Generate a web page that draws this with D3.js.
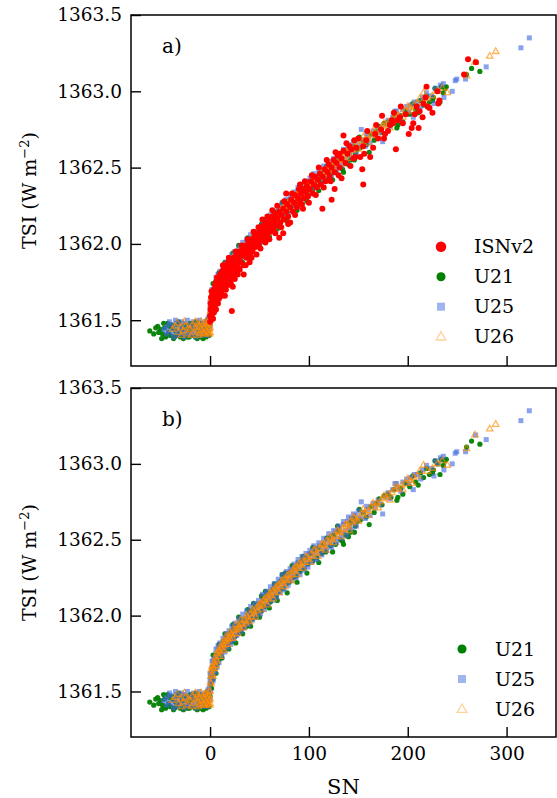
<!DOCTYPE html>
<html>
<head>
<meta charset="utf-8">
<script src="https://cdn.jsdelivr.net/npm/d3@7"></script>
<style>
  body { margin: 0; background: #fff; }
  text { font-family: "DejaVu Serif", serif; fill: #000; }
</style>
</head>
<body>
<svg id="chart" width="557" height="798"></svg>
<script>
// ---- data: [SN, TSI] pairs ----
const u21 = [
  [-61,1361.43],[-57,1361.41],[-55,1361.45],[-53,1361.46],[-52,1361.42],[-50,1361.44],[-49,1361.38],[-48,1361.41],
  [-47,1361.48],[-46,1361.45],[-45,1361.39],[-44,1361.40],[-43,1361.48],[-42,1361.42],[-41,1361.46],[-40,1361.40],
  [-39,1361.47],[-38,1361.45],[-37,1361.38],[-36,1361.39],[-35,1361.43],[-34,1361.40],[-33,1361.47],[-32,1361.49],
  [-31,1361.41],[-30,1361.39],[-29,1361.43],[-28,1361.45],[-27,1361.38],[-26,1361.40],[-25,1361.47],[-24,1361.44],
  [-23,1361.39],[-22,1361.43],[-21,1361.39],[-20,1361.48],[-19,1361.44],[-18,1361.40],[-17,1361.45],[-16,1361.48],
  [-15,1361.39],[-14,1361.49],[-13,1361.38],[-12,1361.42],[-11,1361.46],[-10,1361.44],[-9,1361.39],[-8,1361.48],
  [-7,1361.38],[-6,1361.41],[-5,1361.45],[-4,1361.39],[-3,1361.50],[-2,1361.43],[-2,1361.47],[-1,1361.40],
  [0,1361.47],[0.5,1361.55],[1,1361.60],[1.5,1361.52],[2,1361.63],[3,1361.58],[3,1361.67],[3,1361.74],[4,1361.62],
  [5,1361.70],[5,1361.65],[6,1361.73],[6,1361.62],[7,1361.68],[8,1361.75],[9,1361.71],[9,1361.81],[10,1361.78],
  [11,1361.74],[12,1361.81],[12,1361.72],[13,1361.77],[14,1361.83],[15,1361.78],[15,1361.88],[16,1361.85],[17,1361.80],
  [18,1361.87],[19,1361.82],[19,1361.78],[20,1361.84],[21,1361.89],[22,1361.83],[23,1361.94],[24,1361.91],[25,1361.86],
  [26,1361.82],[27,1361.93],[28,1361.88],[29,1361.99],[30,1361.95],[31,1361.90],[33,1361.97],[33,1361.88],[34,1361.92],
  [36,1361.98],[37,1361.93],[38,1362.04],[39,1362.01],[40,1361.96],[41,1361.93],[42,1362.03],[43,1361.98],[44,1362.08],
  [45,1362.05],[46,1361.99],[48,1362.07],[49,1362.02],[50,1361.99],
  [51,1362.08],[52,1362.13],[52,1362.03],[54,1362.11],[55,1362.06],[56,1362.16],[57,1362.13],[58,1362.07],[60,1362.15],
  [60,1362.05],[61,1362.09],[63,1362.17],[64,1362.12],[65,1362.21],[66,1362.19],[67,1362.13],[68,1362.10],[69,1362.21],
  [70,1362.16],[72,1362.23],[73,1362.27],[74,1362.18],[75,1362.25],[76,1362.28],[77,1362.21],[78,1362.15],[79,1362.28],
  [80,1362.22],[82,1362.29],[83,1362.33],[84,1362.25],[86,1362.31],[87,1362.26],[88,1362.22],[89,1362.34],[91,1362.29],
  [93,1362.36],[94,1362.39],[95,1362.31],[97,1362.38],[98,1362.28],[99,1362.34],
  [102,1362.41],[104,1362.36],[104,1362.45],[106,1362.43],[108,1362.38],[110,1362.45],[110,1362.35],[113,1362.41],
  [115,1362.47],[117,1362.42],[118,1362.51],[120,1362.51],[122,1362.46],[124,1362.42],[125,1362.53],[127,1362.47],
  [129,1362.59],[130,1362.56],[132,1362.50],[134,1362.49],[135,1362.47],[137,1362.53],[140,1362.52],[141,1362.61],
  [142,1362.55],[143,1362.62],[145,1362.64],[146,1362.55],[147,1362.59],[149,1362.62],
  [151,1362.70],[152,1362.63],[155,1362.68],[158,1362.65],[161,1362.60],[163,1362.72],[166,1362.68],[168,1362.74],
  [171,1362.77],[174,1362.73],[176,1362.79],[180,1362.80],[183,1362.78],[186,1362.83],[189,1362.76],[190,1362.78],
  [193,1362.84],[195,1362.80],[198,1362.87],[202,1362.85],[205,1362.92],[208,1362.88],[210.6,1362.86],[213,1362.94],
  [216,1362.91],[219,1362.97],[222,1362.93],[225,1362.94],[226,1362.96],[227.5,1363.02],[230,1363.00],[232.6,1362.93],
  [234,1363.03],[236,1362.99],[237.6,1363.02],[239,1363.03],[259.5,1363.11],[264.6,1363.15],[273,1363.13]
];

const u25 = [
  [-47,1361.44],[-44,1361.46],[-44,1361.41],[-42,1361.43],[-41,1361.49],[-40,1361.47],[-38,1361.42],[-37,1361.39],
  [-36,1361.45],[-35,1361.50],[-34,1361.48],[-33,1361.43],[-32,1361.40],[-31,1361.46],[-30,1361.41],[-29,1361.49],
  [-28,1361.44],[-27,1361.48],[-26,1361.39],[-25,1361.42],[-24,1361.45],[-23,1361.50],[-22,1361.41],[-21,1361.47],
  [-20,1361.40],[-19,1361.43],[-18,1361.46],[-17,1361.49],[-16,1361.41],[-15,1361.44],[-14,1361.39],[-13,1361.47],
  [-12,1361.42],[-11,1361.50],[-10,1361.45],[-9,1361.41],[-8,1361.48],[-8,1361.40],[-7,1361.43],[-6,1361.46],
  [-5,1361.49],[-4,1361.42],[-3,1361.47],[-3,1361.40],[-2,1361.44],[-2,1361.51],[-1,1361.49],[-1,1361.52],
  [0,1361.45],[0,1361.55],[0,1361.58],[0,1361.62],[0.5,1361.50],
  [1,1361.62],[1,1361.57],[2,1361.66],[2,1361.60],[2,1361.70],[3,1361.64],[3,1361.70],[3,1361.57],[4,1361.67],
  [4,1361.62],[4,1361.72],[5,1361.72],[5,1361.63],[6,1361.69],[6,1361.75],[6,1361.78],[7,1361.72],[7,1361.66],
  [8,1361.77],[8,1361.80],[9,1361.74],[9,1361.69],[10,1361.79],[10,1361.82],
  [11,1361.76],[12,1361.81],[12,1361.73],[13,1361.78],[13,1361.85],[14,1361.83],[15,1361.80],[15,1361.76],
  [16,1361.85],[16,1361.88],[17,1361.81],[18,1361.86],[18,1361.79],[19,1361.83],[19,1361.90],[20,1361.88],
  [21,1361.84],[21,1361.81],[22,1361.89],[22,1361.93],[23,1361.86],[24,1361.84],[25,1361.91],[25,1361.95],
  [26,1361.87],[27,1361.93],[27,1361.87],[28,1361.89],[29,1361.98],[30,1361.95],[31,1361.91],[31,1361.89],
  [32,1361.96],[33,1362.01],[34,1361.93],[35,1361.98],[35,1361.92],[37,1361.95],[37,1362.03],[38,1362.00],
  [39,1361.94],[40,1361.97],[41,1362.02],[41,1362.06],[43,1361.99],[43,1361.97],[44,1362.04],[45,1362.08],
  [46,1362.01],[47,1362.06],[47,1361.99],[49,1362.03],[49,1362.10],
  [50,1362.08],[51,1362.01],[52,1362.05],[53,1362.10],[53,1362.14],[55,1362.07],[55,1362.04],[56,1362.12],
  [57,1362.16],[58,1362.09],[59,1362.14],[59,1362.07],[61,1362.11],[61,1362.19],[62,1362.16],[63,1362.10],
  [64,1362.13],[65,1362.18],[65,1362.21],[67,1362.15],[67,1362.12],[68,1362.20],[69,1362.24],[70,1362.17],
  [71,1362.22],[71,1362.15],[73,1362.19],[73,1362.27],[74,1362.24],[75,1362.17],[76,1362.21],[77,1362.26],
  [77,1362.29],[79,1362.23],[79,1362.20],[80,1362.28],[81,1362.31],[82,1362.25],[83,1362.30],[83,1362.23],
  [85,1362.27],[85,1362.34],[86,1362.32],[87,1362.25],[88,1362.29],[89,1362.35],[89,1362.37],[91,1362.31],
  [91,1362.27],[93,1362.36],[93,1362.39],[95,1362.33],[95,1362.30],[96,1362.38],[97,1362.41],[98,1362.35],
  [99,1362.32],
  [100,1362.40],[101,1362.43],[102,1362.37],[103,1362.35],[104,1362.42],[105,1362.46],[106,1362.39],[107,1362.44],
  [108,1362.37],[109,1362.41],[110,1362.48],[111,1362.46],[113,1362.43],[113,1362.40],[115,1362.48],[115,1362.51],
  [117,1362.45],[118,1362.43],[119,1362.50],[120,1362.54],[121,1362.47],[123,1362.52],[123,1362.45],[125,1362.49],
  [125,1362.56],[127,1362.55],[128,1362.48],[129,1362.51],[130,1362.59],[131,1362.57],[133,1362.54],[133,1362.51],
  [135,1362.60],[135,1362.62],[137,1362.56],[138,1362.53],[139,1362.62],[140,1362.65],[141,1362.58],[143,1362.64],
  [143,1362.57],[145,1362.61],[145,1362.67],[147,1362.66],[148,1362.59],[149,1362.63],[150,1362.69],
  [152,1362.65],[153,1362.75],[155,1362.68],[157,1362.64],[158.4,1362.72],[160,1362.70],[162,1362.66],[165,1362.74],
  [167,1362.71],[170,1362.76],[172,1362.73],[174.6,1362.67],[177,1362.78],[180,1362.81],[182,1362.77],[184.7,1362.83],
  [187,1362.87],[188.8,1362.87],[190,1362.84],[193,1362.82],[195,1362.88],[198.9,1362.90],[201,1362.87],[203,1362.91],
  [205.6,1362.83],[206.6,1362.93],[210,1362.93],[213,1362.90],[215,1362.96],[219,1362.99],[224,1362.97],[226.5,1362.92],
  [228,1363.02],[231,1363.00],[233,1363.04],[236,1363.05],[236.6,1362.96],[245,1363.00],[248,1363.07],[249.6,1363.08],
  [258.5,1363.08],[268.6,1363.19],[279.4,1363.16],[314.5,1363.285],[323,1363.35]
];

const u26 = [
  [-38,1361.44],[-35,1361.46],[-33,1361.48],[-32,1361.42],[-30,1361.45],[-29,1361.40],[-27,1361.43],[-26,1361.49],
  [-25,1361.46],[-23,1361.41],[-22,1361.45],[-20,1361.44],[-19,1361.40],[-18,1361.47],[-16,1361.42],[-15,1361.49],
  [-14,1361.45],[-13,1361.48],[-12,1361.43],[-12,1361.40],[-11,1361.46],[-10,1361.41],[-9,1361.44],[-9,1361.49],
  [-8,1361.47],[-7,1361.42],[-6,1361.45],[-6,1361.41],[-5,1361.48],[-4,1361.43],[-4,1361.49],[-3,1361.46],
  [-3,1361.42],[-2,1361.41],[-2,1361.48],[-1,1361.44],[-1,1361.47],[-1,1361.50],[-0.5,1361.41],[0,1361.42],
  [0,1361.45],[0,1361.50],
  [0.5,1361.56],[1,1361.60],[1,1361.55],[1.5,1361.64],[2,1361.61],[2,1361.66],[2.5,1361.67],[3,1361.65],[3,1361.60],
  [4,1361.69],[4,1361.65],[5,1361.67],[5,1361.72],[6,1361.71],[6,1361.67],[7,1361.70],[7,1361.75],[8,1361.73],
  [8,1361.77],[9,1361.77],[10,1361.76],[10,1361.73],
  [11,1361.79],[12,1361.78],[12,1361.82],[13,1361.81],[14,1361.80],[14,1361.77],[15,1361.83],[16,1361.81],[16,1361.86],
  [17,1361.85],[18,1361.84],[18,1361.81],[19,1361.86],[20,1361.85],[20,1361.89],[21,1361.88],[22,1361.87],[23,1361.85],
  [24,1361.90],[25,1361.88],[26,1361.91],[26,1361.94],[28,1361.91],[28,1361.88],[29,1361.93],[30,1361.92],[31,1361.97],
  [32,1361.95],[33,1361.94],[34,1361.92],[35,1361.97],[36,1361.95],[37,1362.00],[38,1361.99],[39,1361.97],[40,1361.96],
  [41,1362.01],[42,1361.99],[43,1362.04],[44,1362.03],[45,1362.01],[46,1361.99],[47,1362.05],[48,1362.03],[49,1362.07],
  [50,1362.06],[51,1362.08],[52,1362.04],[53,1362.07],[54,1362.10],[55,1362.11],[56,1362.09],[57,1362.12],[58,1362.07],
  [59,1362.11],[60,1362.14],[61,1362.15],[62,1362.13],[63,1362.16],[64,1362.11],[65,1362.15],[66,1362.18],[67,1362.19],
  [68,1362.17],[69,1362.20],[70,1362.15],[71,1362.19],[72,1362.22],[73,1362.23],[74,1362.21],[75,1362.24],[76,1362.19],
  [77,1362.23],[78,1362.26],[79,1362.27],[80,1362.24],[81,1362.27],[82,1362.23],[83,1362.27],[84,1362.30],[85,1362.31],
  [86,1362.29],[87,1362.32],[88,1362.27],[89,1362.31],[90,1362.34],[91,1362.35],[92,1362.33],[94,1362.35],[94,1362.31],
  [96,1362.35],[97,1362.39],[98,1362.38],
  [100,1362.37],[101,1362.35],[102,1362.40],[104,1362.39],[105,1362.43],[106,1362.43],[108,1362.41],[109,1362.39],
  [110,1362.44],[112,1362.44],[113,1362.47],[114,1362.47],[116,1362.46],[117,1362.43],[118,1362.49],[120,1362.48],
  [121,1362.52],[122,1362.51],[124,1362.50],[125,1362.48],[126,1362.53],[128,1362.52],[129,1362.56],[130,1362.55],
  [132,1362.55],[133,1362.52],[134,1362.57],[136,1362.57],[137,1362.60],[138,1362.60],[140,1362.59],[141,1362.56],
  [142,1362.62],[144,1362.61],[145,1362.65],[146,1362.64],[148,1362.63],
  [150,1362.62],[151,1362.65],[154,1362.67],[155,1362.70],[157,1362.68],[160,1362.69],[160,1362.66],[163,1362.71],
  [165,1362.74],[166,1362.72],[169,1362.74],[170,1362.71],[172,1362.75],[175,1362.77],[176,1362.79],[178,1362.78],
  [181,1362.80],[182,1362.76],[184,1362.81],[187,1362.83],[188,1362.85],[190,1362.84],[194,1362.86],[195,1362.83],
  [198,1362.87],[200,1362.90],[202,1362.89],[205,1362.87],[206,1362.91],[210,1362.92],[212,1362.95],[216,1362.99],
  [220,1362.95],[225,1362.97],[230,1363.00],[235,1363.02],[240,1362.99],[259.5,1363.10],[268,1363.19],[283,1363.23],
  [289,1363.26]
];

const isnv2 = [
  [0,1361.49],[0,1361.53],[0.5,1361.57],[0.5,1361.61],[1,1361.52],[1,1361.65],[1,1361.58],[1.5,1361.56],[1.5,1361.69],
  [2,1361.60],[2,1361.54],[2,1361.66],[2.5,1361.63],[3,1361.58],[3,1361.67],[3,1361.51],[3.5,1361.62],[4,1361.55],
  [4,1361.70],[4,1361.63],[4.5,1361.66],[5,1361.60],[5,1361.73],[5.5,1361.68],[6,1361.64],[6,1361.75],[6,1361.57],
  [7,1361.70],[7,1361.62],[7,1361.78],[8,1361.74],[8,1361.67],[8,1361.61],[9,1361.77],[9,1361.70],[9,1361.64],
  [10,1361.73],[10,1361.80],[10,1361.66],
  [11,1361.68],[11,1361.77],[12,1361.82],[12,1361.74],[12,1361.66],[13,1361.70],[13,1361.79],[13,1361.86],
  [14,1361.84],[14,1361.76],[15,1361.72],[15,1361.81],[15,1361.66],[16,1361.86],[16,1361.78],[16,1361.70],
  [17,1361.83],[17,1361.75],[18,1361.88],[18,1361.80],[18,1361.73],[19,1361.85],[19,1361.91],[20,1361.77],
  [20,1361.89],[21,1361.82],[21,1361.74],[22,1361.56],[22,1361.86],[23,1361.79],[23,1361.72],[24,1361.91],
  [24,1361.84],[25,1361.88],[25,1361.77],[26,1361.81],[26,1361.95],[27,1361.93],[27,1361.86],[28,1361.90],
  [28,1361.80],[29,1361.84],[30,1361.95],[30,1361.83],[31,1361.88],[32,1361.92],[32,1361.99],[33,1361.97],
  [34,1361.86],[34,1361.80],[35,1361.94],[36,1361.99],[36,1361.86],[37,1361.91],[38,1361.96],[38,1362.03],
  [39,1362.01],[40,1361.93],[40,1361.88],[41,1361.98],[42,1362.03],[42,1361.91],[43,1361.95],[44,1362.00],
  [44,1362.08],[45,1362.05],[46,1361.98],[47,1362.02],[47,1361.93],[48,1362.07],[49,1361.99],[49,1362.11],
  [50,1362.04],[51,1362.10],[51,1361.97],[52,1362.02],[53,1362.07],[53,1362.16],[54,1362.12],[55,1362.04],
  [56,1362.09],[56,1362.01],[57,1362.14],[58,1362.06],[58,1362.18],[59,1362.11],[60,1362.16],[60,1362.03],
  [61,1362.08],[62,1362.13],[63,1362.18],[63,1362.22],[64,1362.10],[65,1362.15],[66,1362.20],[66,1362.07],
  [67,1362.12],[68,1362.17],[68,1362.25],[70,1362.04],[70,1362.21],[71,1362.14],[72,1362.19],[72,1362.11],
  [74,1362.07],[74,1362.23],[75,1362.16],[75,1362.28],[77,1362.33],[77,1362.21],[78,1362.26],[79,1362.18],
  [79,1362.13],[81,1362.14],[81,1362.24],[82,1362.29],[83,1362.33],[84,1362.21],[85,1362.27],[86,1362.32],
  [86,1362.19],[88,1362.24],[89,1362.30],[90,1362.36],[91,1362.39],[91,1362.27],[92,1362.33],[93,1362.26],
  [94,1362.23],[94,1362.36],[95,1362.30],[96,1362.41],[97,1362.34],[98,1362.38],[99,1362.31],
  [100,1362.27],[101,1362.36],[102,1362.41],[103,1362.45],[104,1362.33],[105,1362.39],[106,1362.44],[107,1362.32],
  [108,1362.37],[109,1362.42],[110,1362.50],[111,1362.46],[112,1362.39],[113.6,1362.23],[114,1362.44],[115,1362.37],
  [116,1362.49],[117,1362.41],[118,1362.55],[119,1362.47],[120,1362.52],[121,1362.44],[122,1362.41],[123,1362.29],
  [123,1362.50],[125,1362.55],[126,1362.36],[126,1362.47],[127,1362.60],[128,1362.53],[129,1362.58],[130,1362.45],
  [131,1362.59],[131,1362.50],[133,1362.43],[133,1362.56],[135,1362.71],[135,1362.61],[137,1362.53],[138,1362.66],
  [139,1362.59],[141,1362.64],[142,1362.51],[143,1362.62],[145,1362.56],[146,1362.68],[147,1362.57],[148,1362.63],
  [150,1362.69],[152,1362.57],
  [154,1362.49],[155,1362.39],[155,1362.64],[156,1362.59],[158,1362.68],[159,1362.74],[162,1362.57],[165,1362.63],
  [167,1362.72],[168,1362.78],[170,1362.69],[173,1362.75],[174,1362.84],[176,1362.69],[177,1362.72],[180,1362.74],
  [182,1362.78],[184,1362.81],[185,1362.79],[186,1362.86],[188,1362.62],[190,1362.81],[192,1362.83],[193,1362.90],
  [195,1362.79],[198,1362.85],[201,1362.72],[204,1362.76],[205.6,1362.79],[207,1362.85],[209,1362.90],[211,1362.76],
  [212,1362.87],[215,1362.83],[216,1362.92],[218,1362.96],[219,1363.03],[220,1362.90],[222,1362.89],[225,1362.86],
  [230,1363.00],[231,1362.92],[232,1362.94],[257,1363.11],[261,1363.21],[269,1363.19]
];

const xTicks = [0, 100, 200, 300];
const yTicks = [1361.5, 1362.0, 1362.5, 1363.0, 1363.5];
const panelLabels = ["a)", "b)"];

const svg = d3.select('#chart');
const left = 131, right = 556;

const x = d3.scaleLinear().domain([-80, 350]).range([left, right]);

// marker style per series (legend keeps the light look, the dense cloud is stronger)
const styles = {
  ISNv2: {color: '#ff0000', kind: 'circle', r: 3, opacity: 1, legOpacity: 1},
  U21:   {color: '#008000', kind: 'circle', r: 2.6, opacity: 0.95, legOpacity: 1},
  U25:   {color: '#4169e1', kind: 'square', r: 2.5, opacity: 0.62, legOpacity: 0.5},
  U26:   {color: '#ff8c00', kind: 'triangle', r: 3.2, opacity: 0.65, legOpacity: 0.4}
};

function drawMarks(g, data, st, y) {
  if (st.kind === 'circle') {
    g.selectAll('circle').data(data).join('circle')
      .attr('cx', d => x(d[0])).attr('cy', d => y(d[1]))
      .attr('r', st.r).attr('fill', st.color).attr('fill-opacity', st.opacity);
  } else if (st.kind === 'square') {
    g.selectAll('rect').data(data).join('rect')
      .attr('x', d => x(d[0]) - st.r).attr('y', d => y(d[1]) - st.r)
      .attr('width', st.r * 2).attr('height', st.r * 2)
      .attr('fill', st.color).attr('fill-opacity', st.opacity);
  } else {
    const tri = d3.symbol(d3.symbolTriangle, 18);
    g.selectAll('path').data(data).join('path')
      .attr('d', tri)
      .attr('transform', d => `translate(${x(d[0])},${y(d[1])})`)
      .attr('fill', 'none').attr('stroke', st.color)
      .attr('stroke-width', 1.3).attr('stroke-opacity', st.opacity);
  }
}

function legendMark(g, st, cx, cy) {
  if (st.kind === 'circle') {
    g.append('circle').attr('cx', cx).attr('cy', cy).attr('r', st.r * 1.75)
      .attr('fill', st.color).attr('fill-opacity', st.legOpacity);
  } else if (st.kind === 'square') {
    g.append('rect').attr('x', cx - 4).attr('y', cy - 4).attr('width', 8).attr('height', 8)
      .attr('fill', st.color).attr('fill-opacity', st.legOpacity);
  } else {
    g.append('path').attr('d', d3.symbol(d3.symbolTriangle, 40))
      .attr('transform', `translate(${cx},${cy + 0.5})`)
      .attr('fill', 'none').attr('stroke', st.color)
      .attr('stroke-width', 1.3).attr('stroke-opacity', st.legOpacity);
  }
}

function panel(top, bottom, series, plotOrder, label, showXLabels, legX, legY) {
  const y = d3.scaleLinear().domain([1361.2, 1363.5]).range([bottom, top]);
  const g = svg.append('g');

  plotOrder.forEach(name => {
    const s = series.find(d => d.name === name);
    drawMarks(g.append('g'), s.data, styles[name], y);
  });

  // axes, ticks pointing inwards
  const ya = g.append('g').attr('transform', `translate(${left},0)`)
    .call(d3.axisLeft(y).tickValues(yTicks).tickFormat(d3.format('.1f'))
      .tickSizeInner(-10).tickSizeOuter(0).tickPadding(9));
  const xa = g.append('g').attr('transform', `translate(0,${bottom})`)
    .call(d3.axisBottom(x).tickValues(xTicks).tickFormat(showXLabels ? d3.format('d') : '')
      .tickSizeInner(-10).tickSizeOuter(0).tickPadding(10));
  [ya, xa].forEach(a => {
    a.select('.domain').remove();
    a.selectAll('line').attr('stroke', '#000').attr('stroke-width', 1.4);
    a.selectAll('text').style('font-family', 'DejaVu Serif').style('font-size', '18.5px').attr('fill', '#000');
  });

  g.append('rect').attr('x', left).attr('y', top).attr('width', right - left).attr('height', bottom - top)
    .attr('fill', 'none').attr('stroke', '#000').attr('stroke-width', 1.5);

  g.append('text').attr('x', 162).attr('y', top + 38).style('font-size', '20px').text(label);

  // legend
  series.forEach((s, i) => {
    const cy = legY + i * 30;
    legendMark(g, styles[s.name], legX, cy);
    g.append('text').attr('x', legX + 33).attr('y', cy + 6.5).style('font-size', '19px').text(s.name);
  });

  // y label
  const yl = g.append('text')
    .attr('transform', `translate(36,${(top + bottom) / 2}) rotate(-90)`)
    .attr('text-anchor', 'middle').style('font-size', '19px');
  yl.append('tspan').text('TSI (W m');
  yl.append('tspan').attr('dy', -7).style('font-size', '13px').text('\u22122');
  yl.append('tspan').attr('dy', 7).text(')');
}

panel(15, 366,
  [{name: 'ISNv2', data: isnv2}, {name: 'U21', data: u21}, {name: 'U25', data: u25}, {name: 'U26', data: u26}],
  ['U21', 'U25', 'U26', 'ISNv2'], panelLabels[0], false, 441, 246.7);

panel(388, 737,
  [{name: 'U21', data: u21}, {name: 'U25', data: u25}, {name: 'U26', data: u26}],
  ['U21', 'U25', 'U26'], panelLabels[1], true, 462, 649);

svg.append('text').attr('x', (left + right) / 2).attr('y', 794)
  .attr('text-anchor', 'middle').style('font-size', '21px').text('SN');
</script>
</body>
</html>
